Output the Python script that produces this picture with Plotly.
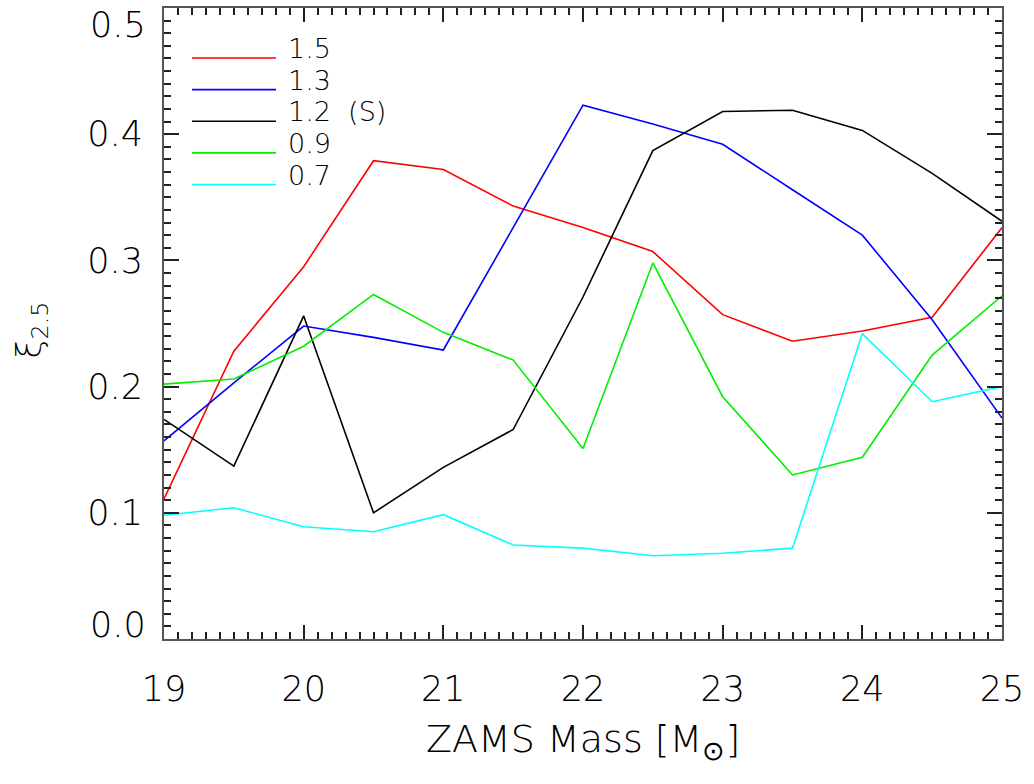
import plotly.graph_objects as go

mass = [19.0, 19.5, 20.0, 20.5, 21.0, 21.5, 22.0, 22.5, 23.0, 23.5, 24.0, 24.5, 25.0]

xi_15 = [0.111, 0.228, 0.295, 0.379, 0.372, 0.343, 0.326, 0.307, 0.257, 0.236, 0.244, 0.255, 0.326]
xi_13 = [0.157, 0.203, 0.248, 0.239, 0.229, 0.326, 0.423, 0.408, 0.392, 0.356, 0.320, 0.253, 0.175]
xi_12 = [0.174, 0.137, 0.256, 0.100, 0.136, 0.166, 0.271, 0.387, 0.418, 0.419, 0.403, 0.369, 0.331]
xi_09 = [0.202, 0.206, 0.232, 0.273, 0.243, 0.221, 0.151, 0.298, 0.192, 0.130, 0.144, 0.225, 0.272]
xi_07 = [0.098, 0.104, 0.089, 0.085, 0.0985, 0.0745, 0.072, 0.066, 0.068, 0.072, 0.242, 0.188, 0.200]

series_names = ["1.5", "1.3", "1.2  (S)", "0.9", "0.7"]
series_values = [xi_15, xi_13, xi_12, xi_09, xi_07]
series_colors = ["#ff0000", "#0000ff", "#000000", "#00ee00", "#00ffff"]

x_ticks = [19, 20, 21, 22, 23, 24, 25]
y_ticks = [0.0, 0.1, 0.2, 0.3, 0.4, 0.5]
y_tick_labels = ["0.0", "0.1", "0.2", "0.3", "0.4", "0.5"]

FONT = "DejaVu Sans"
W = 200
AXC = "#555555"

fig = go.Figure()
for name, vals, col in zip(series_names, series_values, series_colors):
    fig.add_trace(go.Scatter(x=mass, y=vals, mode="lines", name=name,
                             line=dict(color=col, width=1.6), showlegend=False))

# manual legend
leg_y0 = 0.9207
leg_dy = 0.0501
for i, (name, col) in enumerate(zip(series_names, series_colors)):
    yy = leg_y0 - i * leg_dy
    fig.add_shape(type="line", xref="paper", yref="paper", x0=0.0334, x1=0.1337,
                  y0=yy, y1=yy, line=dict(color=col, width=1.6))
    fig.add_annotation(xref="paper", yref="paper", x=0.146, y=yy + 0.015, text=name,
                       showarrow=False, xanchor="left", yanchor="middle",
                       font=dict(family=FONT, size=27, color="#000000", weight=W))

# end y tick labels shifted inside like IDL
end_shift = {0.0: 14, 0.5: -17}
for v, lab in zip(y_ticks, y_tick_labels):
    if v in end_shift:
        fig.add_annotation(xref="paper", yref="y", x=0, y=v, xshift=-16, yshift=end_shift[v],
                           text=lab, showarrow=False, xanchor="right", yanchor="middle",
                           font=dict(family=FONT, size=35, color="#000000", weight=W))

# axis titles
fig.add_annotation(xref="paper", yref="paper", x=0.5, y=-0.163, text="ZAMS Mass [M<sub>⊙</sub>]",
                   showarrow=False, xanchor="center", yanchor="middle",
                   font=dict(family=FONT, size=38, color="#000000", weight=W))
fig.add_annotation(xref="paper", yref="paper", x=-0.158, y=0.49, text="ξ<sub>2.5</sub>",
                   showarrow=False, xanchor="center", yanchor="middle", textangle=-90,
                   font=dict(family=FONT, size=34, color="#000000", weight=W))

fig.update_xaxes(range=[19, 25], tickvals=x_ticks, ticktext=[str(t) for t in x_ticks],
                 ticks="inside", ticklen=14, tickwidth=1.5, tickcolor="#222222",
                 minor=dict(dtick=0.1, ticks="inside", ticklen=7, tickwidth=1.5, tickcolor="#222222"),
                 showline=True, linecolor=AXC, linewidth=2, mirror="ticks",
                 showgrid=False, zeroline=False, ticklabelstandoff=18,
                 tickfont=dict(family=FONT, size=35, color="#000000", weight=W))
fig.update_yaxes(range=[0, 0.5], tickvals=y_ticks[1:-1], ticktext=y_tick_labels[1:-1],
                 ticks="inside", ticklen=15, tickwidth=1.5, tickcolor="#222222",
                 minor=dict(dtick=0.01, ticks="inside", ticklen=7, tickwidth=1.5, tickcolor="#222222"),
                 showline=True, linecolor=AXC, linewidth=2, mirror="ticks",
                 showgrid=False, zeroline=False, ticklabelstandoff=12,
                 tickfont=dict(family=FONT, size=35, color="#000000", weight=W))

fig.update_layout(width=1034, height=784, margin=dict(l=164, r=32, t=8, b=145, autoexpand=False),
                  plot_bgcolor="white", paper_bgcolor="white")

fig.write_html("out.html")
